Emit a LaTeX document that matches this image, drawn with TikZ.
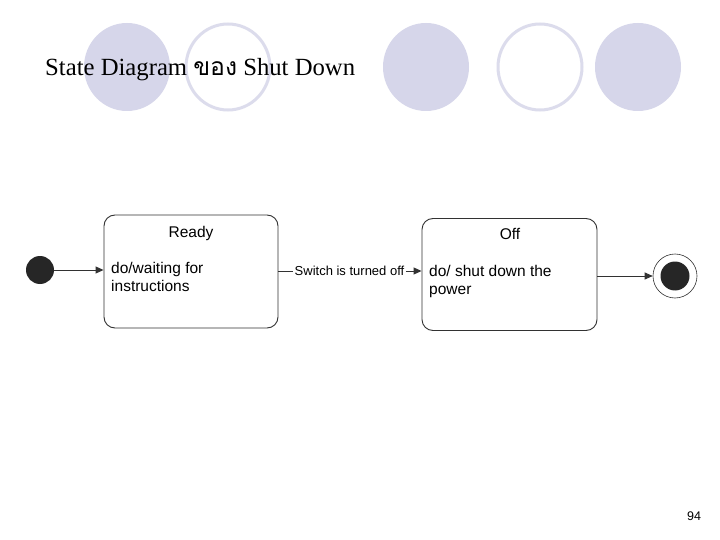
\documentclass[tikz,border=0pt]{standalone}
\usepackage{fontspec}
\setmainfont{Liberation Serif}
\newfontfamily\arialfont{Liberation Sans}
\newfontfamily\thaifont[Script=Thai]{Loma}
\usetikzlibrary{arrows.meta}
\definecolor{lav}{RGB}{214,214,234}
\definecolor{lavline}{RGB}{220,220,236}
\definecolor{ink}{RGB}{50,50,50}
\tikzset{
  bubblefill/.style={fill=lav,draw=none},
  bubblering/.style={draw=lavline,line width=3pt,fill=white},
  statebox/.style={draw=ink,line width=0.9pt,rounded corners=11pt,inner sep=0pt},
  boxtext/.style={font=\arialfont\fontsize{15.5}{18}\selectfont,inner sep=0pt,align=left},
  conn/.style={draw=ink,line width=0.9pt},
  arr/.style={conn,-{Triangle[length=8pt,width=7pt]}},
}
\begin{document}
\begin{tikzpicture}[x=1pt,y=-1pt]
\useasboundingbox (0,0) rectangle (720,540);
\fill[white] (0,0) rectangle (720,540);
% decorative bubbles
\fill[bubblefill] (127,67) ellipse [x radius=43,y radius=44];
\draw[bubblering] (228,67) ellipse [x radius=42,y radius=43];
\fill[bubblefill] (426,67) ellipse [x radius=43,y radius=44];
\draw[bubblering] (540,67) ellipse [x radius=42,y radius=43];
\fill[bubblefill] (638,67) ellipse [x radius=43,y radius=44];
% title
\node[anchor=base west,inner sep=0pt,font=\fontsize{24.7}{29}\selectfont] (title) at (45,76)
  {State Diagram {\thaifont ของ} Shut Down};
% states
\node[statebox,minimum width=174pt,minimum height=113pt] (ready) at (191,271.5) {};
\node[statebox,minimum width=175pt,minimum height=112pt] (off) at (509.5,274.5) {};
\node[boxtext,anchor=base] (readyname) at (191,237) {Ready};
\node[boxtext,anchor=base west] (readydo) at (111,291) {do/waiting for\\instructions};
\node[boxtext,anchor=base] (offname) at (510,240) {Off};
\node[boxtext,anchor=base west] (offdo) at (429,294) {do/ shut down the\\power};
% initial and final
\node[circle,fill=black!85,inner sep=0pt,minimum size=28pt] (init) at (40,270) {};
\node[circle,draw=ink,line width=0.6pt,inner sep=0pt,minimum size=44pt] (final) at (675,276) {};
\node[circle,fill=black!85,inner sep=0pt,minimum size=29pt] (finaldot) at (675,276) {};
% transitions
\draw[arr] (init.east) -- (init.east -| ready.west);
\node[anchor=west,inner sep=1.5pt,font=\arialfont\fontsize{13}{15}\selectfont] (lbl) at (293,271) {Switch is turned off};
\draw[conn] (ready.east |- lbl.west) -- (lbl.west);
\draw[arr] (lbl.east) -- (lbl.east -| off.west);
\draw[arr] (off.east |- final.west) -- (final.west);
% page number
\node[anchor=base,inner sep=0pt,font=\arialfont\fontsize{12.5}{14}\selectfont] (page) at (694,520) {94};
\end{tikzpicture}
\end{document}
